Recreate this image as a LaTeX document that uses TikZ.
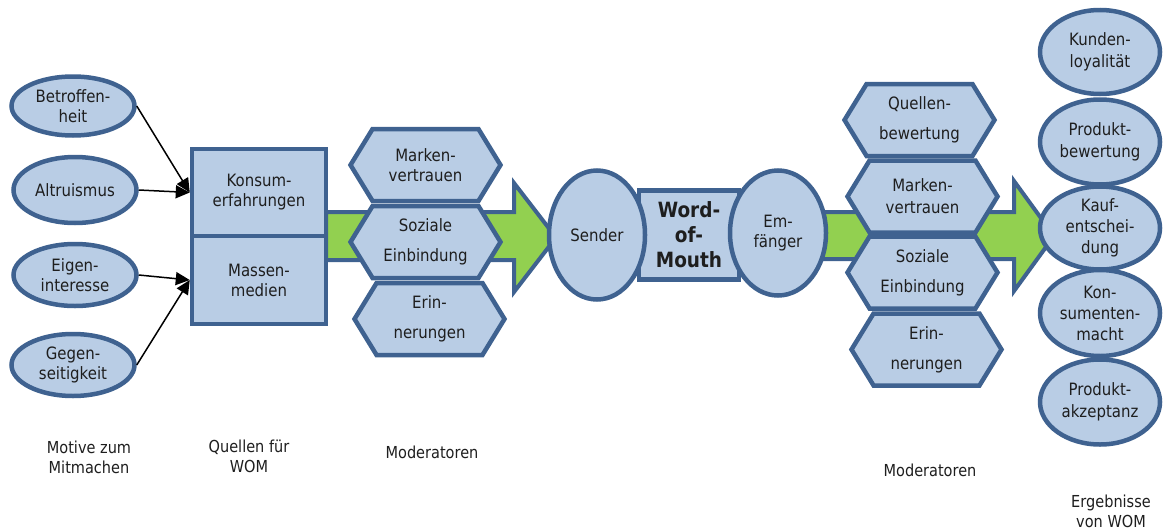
\documentclass[tikz,border=0pt]{standalone}
\usepackage{fontspec}
\setmainfont{DejaVu Sans}[FakeStretch=0.88]
\usetikzlibrary{shapes.geometric,shapes.symbols,arrows.meta}
\definecolor{edge}{HTML}{3F6290}
\definecolor{boxfill}{HTML}{B9CDE5}
\definecolor{arrowgreen}{HTML}{92D050}
\definecolor{ink}{HTML}{1E1E1E}
\begin{document}
\begin{tikzpicture}[x=1pt,y=-1pt,
  base/.style={draw=edge, fill=boxfill, line width=4.5pt, text=ink, align=center,
               inner sep=0pt, font=\fontsize{17}{20}\selectfont},
  oval/.style={base, ellipse, minimum width=123pt},
  rbox/.style={base, rectangle, minimum width=134pt},
  hexbox/.style={base, signal, signal to=east and west, signal pointer angle=117,
                 minimum width=150pt, minimum height=72pt, font=\fontsize{17}{30}\selectfont},
  bigarrow/.style={draw=edge, fill=arrowgreen, line width=4pt, line join=miter},
  feed/.style={draw=black, line width=1.5pt, -{Triangle[length=14pt,width=13pt]}},
  caption/.style={text=ink, align=center, inner sep=0pt, font=\fontsize{16.5}{20}\selectfont}
]
\useasboundingbox (0,0) rectangle (1164,530);

% broad green arrows
\draw[bigarrow] (326,212) -- (514,212) -- (514,183) -- (556,237.5) -- (514,292)
  -- (514,260) -- (326,260) -- cycle;
\draw[bigarrow] (800,212) -- (1014,212) -- (1014,181) -- (1054,236) -- (1014,291)
  -- (1014,259) -- (800,259) -- cycle;

% motives
\node[oval, minimum height=59pt] (bet) at (73,106) {Betroffen-\\heit};
\node[oval, minimum height=66pt] (alt) at (75,190) {Altruismus};
\node[oval, minimum height=62pt] (eig) at (75,275) {Eigen-\\interesse};
\node[oval, minimum height=62pt] (geg) at (73,365) {Gegen-\\seitigkeit};

% sources
\node[rbox, minimum height=87pt] (kon) at (259,192.5) {Konsum-\\erfahrungen};
\node[rbox, minimum height=88pt] (mas) at (259,280) {Massen-\\medien};

\draw[feed] (bet.east) -- (kon.west);
\draw[feed] (alt.east) -- (kon.west);
\draw[feed] (eig.east) -- (mas.west);
\draw[feed] (geg.east) -- (mas.west);

% first moderators
\node[hexbox, font=\fontsize{17}{20}\selectfont] (lm1) at (425.5,165) {Marken-\\vertrauen};
\node[hexbox] (lm2) at (425.5,242) {Soziale\\Einbindung};
\node[hexbox] (lm3) at (429.5,319) {Erin-\\nerungen};

% word of mouth
\node[base, rectangle, minimum width=100pt, minimum height=89pt,
      font=\fontsize{21}{25}\bfseries\selectfont] (wom) at (689,235) {Word-\\of-\\Mouth};
\node[oval, minimum width=96pt, minimum height=129pt] (snd) at (597,235) {Sender};
\node[oval, minimum width=96pt, minimum height=125pt] (emp) at (778,233) {Em-\\fänger};

% second moderators
\node[hexbox] (rm1) at (919.5,120) {Quellen-\\bewertung};
\node[hexbox, font=\fontsize{17}{22}\selectfont] (rm2) at (922.5,196.5) {Marken-\\vertrauen};
\node[hexbox] (rm3) at (922.5,272.5) {Soziale\\Einbindung};
\node[hexbox] (rm4) at (926.5,349.5) {Erin-\\nerungen};

% outcomes
\node[oval, minimum width=120pt, minimum height=84pt, font=\fontsize{17}{22}\selectfont] (o1) at (1100,52) {Kunden-\\loyalität};
\node[oval, minimum width=120pt, minimum height=85pt, font=\fontsize{17}{22}\selectfont] (o2) at (1100,142) {Produkt-\\bewertung};
\node[oval, minimum width=120pt, minimum height=83pt, font=\fontsize{17}{21}\selectfont] (o3) at (1100,228) {Kauf-\\entschei-\\dung};
\node[oval, minimum width=120pt, minimum height=86pt, font=\fontsize{17}{21}\selectfont] (o4) at (1100,313) {Kon-\\sumenten-\\macht};
\node[oval, minimum width=120pt, minimum height=85pt, font=\fontsize{17}{22}\selectfont] (o5) at (1100,402) {Produkt-\\akzeptanz};

% column captions
\node[caption] (c1) at (89,457) {Motive zum\\Mitmachen};
\node[caption] (c2) at (249,456) {Quellen für\\WOM};
\node[caption] (c3) at (432,452) {Moderatoren};
\node[caption] (c4) at (930,470) {Moderatoren};
\node[caption] (c5) at (1111,511) {Ergebnisse\\von WOM};
\end{tikzpicture}
\end{document}
